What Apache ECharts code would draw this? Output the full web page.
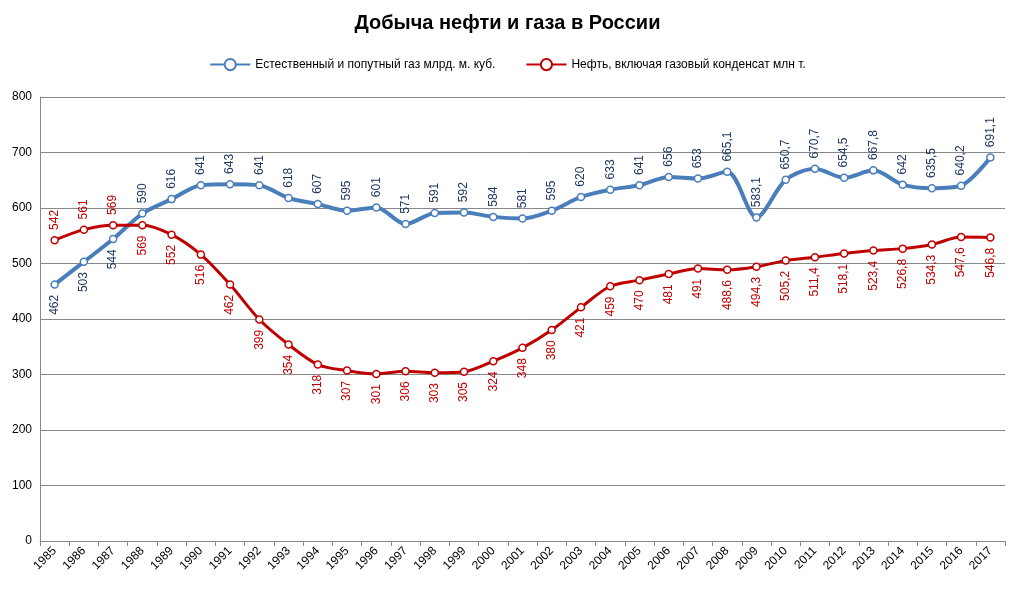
<!DOCTYPE html><html><head><meta charset="utf-8"><script src="https://cdn.jsdelivr.net/npm/echarts@6/dist/echarts.min.js"></script></head><body style="margin:0"><div id="c" style="width:1015px;height:591px"></div><script>
const years=['1985','1986','1987','1988','1989','1990','1991','1992','1993','1994','1995','1996','1997','1998','1999','2000','2001','2002','2003','2004','2005','2006','2007','2008','2009','2010','2011','2012','2013','2014','2015','2016','2017'];
const gas=[462,503,544,590,616,641,643,641,618,607,595,601,571,591,592,584,581,595,620,633,641,656,653,665.1,583.1,650.7,670.7,654.5,667.8,642,635.5,640.2,691.1];
const oil=[542,561,569,569,552,516,462,399,354,318,307,301,306,303,305,324,348,380,421,459,470,481,491,488.6,494.3,505.2,511.4,518.1,523.4,526.8,534.3,547.6,546.8];
const fmt=p=>String(p.value).replace('.',',');
const pt=(v,top)=>({value:v,label:{position:top?'top':'bottom',align:top?'left':'right'}});
const ch=echarts.init(document.getElementById('c'));
ch.setOption({
title:{text:'Добыча нефти и газа в России',left:'center',top:8,textStyle:{fontFamily:'Liberation Sans',fontSize:20,fontWeight:'bold',color:'#000'}},
legend:{top:53,left:'center',itemWidth:40,itemGap:30,textStyle:{fontFamily:'Liberation Sans',fontSize:12,color:'#000'}},
grid:{left:40,right:10,top:97,bottom:50},
xAxis:{type:'category',data:years,axisTick:{show:true},axisLine:{lineStyle:{color:'#888'}},axisLabel:{rotate:45,interval:0,color:'#000',fontFamily:'Liberation Sans',fontSize:12}},
yAxis:{type:'value',min:0,max:800,interval:100,axisLine:{show:true,lineStyle:{color:'#888'}},splitLine:{lineStyle:{color:'#888'}},axisLabel:{color:'#000',fontFamily:'Liberation Sans',fontSize:12}},
series:[
{name:'Естественный и попутный газ млрд. м. куб.',type:'line',smooth:0.3,data:gas.map((v,i)=>pt(v,i>=3)),lineStyle:{width:4,color:'#4a7ebb'},itemStyle:{color:'#fff',borderColor:'#4a7ebb',borderWidth:1.5},symbol:'circle',symbolSize:7,
label:{show:true,rotate:90,distance:6,color:'#1f3864',fontFamily:'Liberation Sans',fontSize:12,formatter:fmt,verticalAlign:'middle'}},
{name:'Нефть, включая газовый конденсат млн т.',type:'line',smooth:0.3,data:oil.map((v,i)=>pt(v,i<3)),lineStyle:{width:3,color:'#c00000'},itemStyle:{color:'#fff',borderColor:'#c00000',borderWidth:1.5},symbol:'circle',symbolSize:7,
label:{show:true,rotate:90,distance:6,color:'#c00000',fontFamily:'Liberation Sans',fontSize:12,formatter:fmt,verticalAlign:'middle'}}
]});
</script></body></html>
